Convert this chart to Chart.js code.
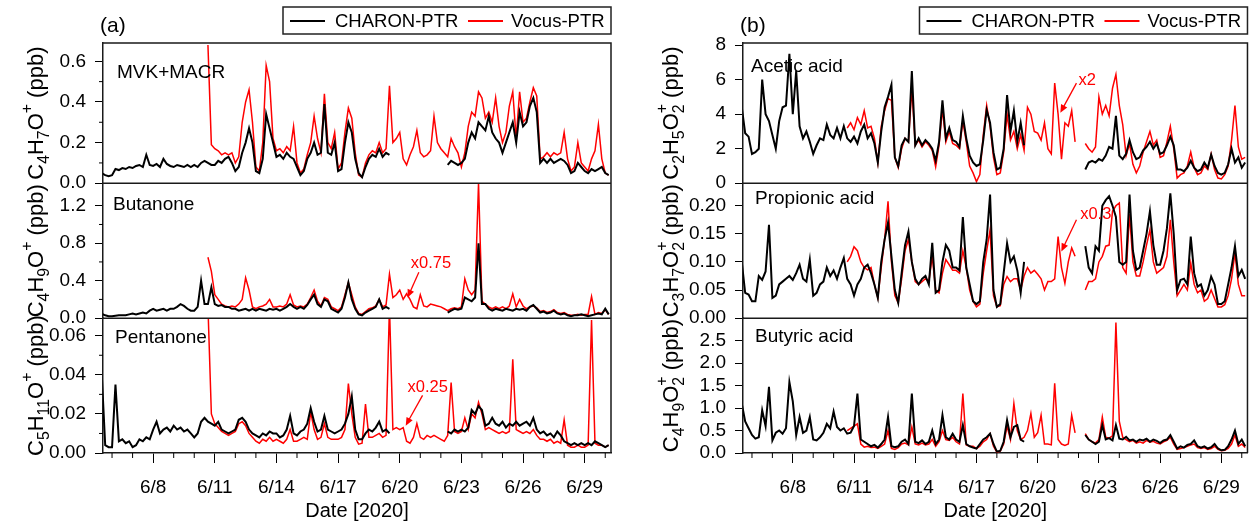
<!DOCTYPE html>
<html>
<head>
<meta charset="utf-8">
<script src="https://cdn.jsdelivr.net/npm/chart.js@4.4.1/dist/chart.umd.min.js"></script>
<style>
  html, body { margin: 0; padding: 0; background: #fff; }
  #wrap { position: relative; width: 1253px; height: 523px; }
  canvas { position: absolute; top: 0; }
  #chartA { left: 0; }
  #chartB { left: 626px; }
</style>
</head>
<body>
<div id="wrap">
  <canvas id="chartA" width="626" height="523"></canvas>
  <canvas id="chartB" width="627" height="523"></canvas>
</div>
<script>
const _ = null;

// Time grid: one sample every 4 h, starting 6/5 12:00 (day-of-June units)
const sampleStart = 5.5;
const sampleStep = 1 / 6;
const dayMin = 5.56;
const dayMax = 30.28;
const dateTicks = [8, 11, 14, 17, 20, 23, 26, 29];
const dayTicks = [6, 7, 9, 10, 12, 13, 15, 16, 18, 19, 21, 22, 24, 25, 27, 28, 30];

// Y tick values
const mvkTicks = [0, 0.2, 0.4, 0.6];
const mvkMinor = [0.1, 0.3, 0.5];
const butanoneTicks = [0, 0.4, 0.8, 1.2];
const butanoneMinor = [0.2, 0.6, 1.0];
const pentanoneTicks = [0, 0.02, 0.04, 0.06];
const pentanoneMinor = [0.01, 0.03, 0.05];
const aceticTicks = [0, 2, 4, 6, 8];
const propionicTicks = [0, 0.05, 0.1, 0.15, 0.2];
const butyricTicks = [0, 0.5, 1, 1.5, 2, 2.5];

// ---- (a) MVK+MACR ----
const mvkCharon = [
  0.05, 0.04, 0.035,
  0.04, 0.07, 0.065, 0.075, 0.07, 0.08,
  0.075, 0.085, 0.09, 0.08, 0.14, 0.09,
  0.085, 0.095, 0.08, 0.12, 0.095, 0.085,
  0.08, 0.09, 0.085, 0.08, 0.09, 0.08,
  0.09, 0.08, 0.1, 0.11, 0.1, 0.09,
  0.09, 0.11, 0.1, 0.12, 0.13, 0.1,
  0.06, 0.08, 0.15, 0.2, 0.27, 0.2,
  0.06, 0.05, 0.12, 0.34, 0.27, 0.2,
  0.13, 0.14, 0.12, 0.15, 0.13, 0.12,
  0.08, 0.04, 0.06, 0.12, 0.15, 0.2,
  0.14, 0.15, 0.39, 0.15, 0.14, 0.2,
  0.06, 0.07, 0.2, 0.3, 0.25, 0.12,
  0.05, 0.03, 0.08, 0.12, 0.14, 0.13,
  0.17, 0.13, 0.15, 0.14, _, _,
  _, _, _, _, _, _,
  _, _, _, _, _, _,
  _, _, 0.09, 0.11, 0.1, 0.09,
  0.1, 0.12, 0.2, 0.25, 0.22, 0.3,
  0.28, 0.26, 0.33, 0.25, 0.22, 0.2,
  0.15, 0.2, 0.25, 0.3, 0.2, 0.35,
  0.28, 0.3, 0.38, 0.42, 0.35, 0.1,
  0.12, 0.1, 0.12, 0.1, 0.11, 0.12,
  0.11, 0.09, 0.05, 0.06, 0.1, 0.08,
  0.06, 0.05, 0.07, 0.06, 0.07, 0.08,
  0.05, 0.04
];
const mvkVocus = [
  _, _, _,
  _, _, _, _, _, _,
  _, _, _, _, _, _,
  _, _, _, _, _, _,
  _, _, _, _, _, _,
  _, _, _, _, 0.68, 0.19,
  0.17, 0.16, 0.14, 0.15, 0.14, 0.15,
  0.1, 0.13, 0.3, 0.4, 0.46, 0.3,
  0.08, 0.06, 0.2, 0.58, 0.5, 0.22,
  0.16, 0.17, 0.15, 0.18, 0.16, 0.28,
  0.1, 0.05, 0.07, 0.14, 0.2, 0.33,
  0.22, 0.15, 0.44, 0.2, 0.17, 0.25,
  0.07, 0.1, 0.25, 0.37, 0.32, 0.15,
  0.04, 0.03, 0.1, 0.14, 0.16, 0.15,
  0.2, 0.15, 0.17, 0.48, 0.2, 0.22,
  0.25, 0.12, 0.09, 0.14, 0.18, 0.26,
  0.15, 0.13, 0.14, 0.16, 0.33, 0.2,
  0.17, 0.15, 0.13, 0.22, 0.18, 0.15,
  0.08, 0.15, 0.28, 0.35, 0.33, 0.45,
  0.42, 0.32, 0.35, 0.3, 0.42, 0.28,
  0.2, 0.25, 0.38, 0.45, 0.22, 0.45,
  0.3, 0.32, 0.4, 0.47, 0.43, 0.12,
  0.13, 0.15, 0.13, 0.15, 0.14, 0.15,
  0.25, 0.12, 0.06, 0.08, 0.2, 0.1,
  0.08, 0.06, 0.12, 0.16, 0.29, 0.12,
  0.05, 0.04
];

// ---- (a) Butanone ----
const butanoneCharon = [
  0.045, 0.03, 0.02,
  0.02, 0.025, 0.03, 0.03, 0.03, 0.04,
  0.05, 0.04, 0.05, 0.06, 0.05, 0.08,
  0.1, 0.08, 0.09, 0.1, 0.08, 0.1,
  0.1, 0.12, 0.15, 0.13, 0.1, 0.08,
  0.08, 0.12, 0.4, 0.15, 0.15, 0.33,
  0.15, 0.13, 0.14, 0.12, 0.12, 0.1,
  0.1, 0.08, 0.09, 0.1, 0.08, 0.1,
  0.08, 0.1, 0.09, 0.08, 0.1, 0.09,
  0.1, 0.08, 0.1, 0.12, 0.15, 0.12,
  0.1, 0.12, 0.1, 0.14, 0.2, 0.25,
  0.15, 0.12, 0.2, 0.18, 0.1, 0.08,
  0.06, 0.1, 0.22, 0.38, 0.2, 0.1,
  0.04, 0.03, 0.06, 0.08, 0.1, 0.12,
  0.2, 0.1, 0.12, 0.1, _, _,
  _, _, _, _, _, _,
  _, _, _, _, _, _,
  _, _, 0.06, 0.08, 0.1, 0.09,
  0.1, 0.22, 0.2, 0.18, 0.22, 0.8,
  0.15, 0.15, 0.1, 0.08, 0.1, 0.09,
  0.08, 0.1, 0.09, 0.08, 0.1, 0.09,
  0.1, 0.08, 0.12, 0.14, 0.1, 0.06,
  0.07, 0.05, 0.06, 0.08, 0.05, 0.04,
  0.05, 0.03, 0.02, 0.03, 0.03, 0.04,
  0.03, 0.02, 0.03, 0.04, 0.05, 0.04,
  0.1, 0.04
];
const butanoneVocus = [
  _, _, _,
  _, _, _, _, _, _,
  _, _, _, _, _, _,
  _, _, _, _, _, _,
  _, _, _, _, _, _,
  _, _, _, _, 0.65, 0.5,
  0.25, 0.2, 0.15, 0.13, 0.12, 0.13,
  0.12, 0.15, 0.2, 0.43, 0.3, 0.12,
  0.1, 0.12, 0.13, 0.15, 0.2, 0.12,
  0.12, 0.13, 0.12, 0.15, 0.25, 0.14,
  0.12, 0.13, 0.12, 0.15, 0.22, 0.3,
  0.18, 0.13, 0.22, 0.2, 0.12, 0.1,
  0.08, 0.12, 0.25, 0.38, 0.25, 0.12,
  0.05, 0.04, 0.07, 0.1, 0.11, 0.13,
  0.2, 0.12, 0.14, 0.47, 0.22, 0.25,
  0.3, 0.2, 0.26, 0.2, 0.12, 0.1,
  0.25, 0.13, 0.12, 0.15, 0.14, 0.13,
  0.12, 0.1, 0.08, 0.1, 0.11, 0.1,
  0.12, 0.42, 0.3, 0.25, 0.3, 1.44,
  0.18, 0.15, 0.12, 0.1, 0.12, 0.1,
  0.12, 0.1, 0.13, 0.26, 0.12, 0.2,
  0.13, 0.1, 0.12, 0.13, 0.11, 0.07,
  0.08, 0.06, 0.07, 0.09, 0.06, 0.05,
  0.06, 0.04, 0.03, 0.03, 0.04, 0.03,
  0.04, 0.04, 0.23, 0.04, 0.06, 0.05,
  0.09, 0.04
];

// ---- (a) Pentanone ----
const pentanoneCharon = [
  0.04, 0.004, 0.003,
  0.003, 0.035, 0.006, 0.007, 0.005, 0.006,
  0.003, 0.004, 0.007, 0.006, 0.008, 0.007,
  0.012, 0.016, 0.01, 0.012, 0.013, 0.011,
  0.014, 0.012, 0.013, 0.011, 0.012, 0.01,
  0.008, 0.01, 0.016, 0.018, 0.016, 0.015,
  0.014, 0.016, 0.012, 0.011, 0.01, 0.011,
  0.012, 0.017, 0.018, 0.016, 0.012, 0.01,
  0.009, 0.008, 0.01, 0.009, 0.011, 0.01,
  0.01, 0.008, 0.009, 0.012, 0.019, 0.01,
  0.009, 0.011, 0.012, 0.015, 0.023, 0.016,
  0.011, 0.012, 0.019, 0.012, 0.011, 0.01,
  0.011, 0.012, 0.015, 0.02, 0.029, 0.012,
  0.007, 0.007, 0.01, 0.012, 0.011, 0.013,
  0.016, 0.011, 0.012, 0.01, _, _,
  _, _, _, _, _, _,
  _, _, _, _, _, _,
  _, _, 0.011, 0.01, 0.012, 0.011,
  0.012, 0.011, 0.013, 0.022, 0.02, 0.024,
  0.022, 0.014, 0.015, 0.018, 0.015, 0.014,
  0.016, 0.013, 0.015, 0.014, 0.016, 0.014,
  0.015, 0.016, 0.014, 0.018, 0.012, 0.01,
  0.011, 0.009, 0.01, 0.008, 0.011, 0.009,
  0.006, 0.005, 0.004, 0.005, 0.004, 0.005,
  0.004, 0.005, 0.004, 0.006, 0.005, 0.004,
  0.003, 0.004
];
const pentanoneVocus = [
  _, _, _,
  _, _, _, _, _, _,
  _, _, _, _, _, _,
  _, _, _, _, _, _,
  _, _, _, _, _, _,
  _, _, _, _, 0.075, 0.02,
  0.015, 0.013, 0.011, 0.01, 0.009, 0.01,
  0.011, 0.015, 0.016, 0.014, 0.01, 0.008,
  0.006, 0.005, 0.007, 0.006, 0.008, 0.006,
  0.007, 0.006, 0.005, 0.007, 0.012, 0.006,
  0.006, 0.007, 0.008, 0.007, 0.021, 0.012,
  0.007, 0.008, 0.015, 0.008, 0.007, 0.007,
  0.007, 0.008, 0.012, 0.0355, 0.02, 0.008,
  0.0045, 0.005, 0.025, 0.008, 0.008, 0.009,
  0.01, 0.008, 0.009, 0.075, 0.012, 0.013,
  0.012, 0.013, 0.006, 0.005, 0.008, 0.015,
  0.008, 0.007, 0.009, 0.008, 0.009, 0.008,
  0.007, 0.006, 0.009, 0.036, 0.011, 0.01,
  0.011, 0.018, 0.012, 0.02, 0.018, 0.026,
  0.02, 0.012, 0.013, 0.012, 0.011, 0.01,
  0.011, 0.01, 0.011, 0.048, 0.012, 0.011,
  0.01, 0.011, 0.01, 0.012, 0.009, 0.007,
  0.007, 0.006, 0.007, 0.005, 0.006, 0.005,
  0.017, 0.004, 0.003, 0.003, 0.004, 0.003,
  0.003, 0.004, 0.068, 0.005, 0.004, 0.004,
  0.003, 0.004
];

// ---- (b) Acetic acid ----
const aceticCharon = [
  4.4, 2.9, 2.7,
  1.7, 1.8, 2.0, 6.0, 4.0, 3.6,
  2.8, 2.0, 3.6, 4.4, 4.5, 7.5,
  4.0, 6.5, 3.3, 2.6, 3.0, 2.4,
  1.7, 2.2, 2.6, 2.5, 3.4, 2.8,
  2.6, 3.2, 2.6, 3.3, 2.6, 2.4,
  2.7, 2.3, 3.0, 3.4, 2.6, 2.9,
  2.3, 1.2, 3.0, 4.4, 5.0, 5.7,
  1.5, 1.0, 2.2, 2.6, 2.4, 6.5,
  2.2, 2.6, 2.2, 2.5, 2.3, 2.0,
  1.3, 2.4, 4.8, 2.6, 3.2, 2.5,
  2.4, 2.1, 3.9, 2.6, 1.6, 1.2,
  1.0, 1.1, 2.5, 4.25, 3.5, 1.8,
  0.8, 0.9, 2.0, 5.1, 3.0, 4.2,
  2.4, 3.5, 2.2, _, _, _,
  _, _, _, _, _, _,
  _, _, _, _, _, _,
  _, _, 0.8, 1.2, 1.3, 1.2,
  1.4, 1.3, 1.6, 2.1, 2.0, 3.9,
  1.6, 1.4, 1.7, 2.5, 1.8, 1.4,
  1.5, 1.9, 2.1, 2.4, 2.0, 2.3,
  1.7, 1.8, 2.2, 2.7, 2.2, 0.8,
  0.8, 0.7, 0.9, 1.3, 0.9, 0.7,
  0.8, 1.2, 0.9, 1.65, 1.0, 0.6,
  0.5, 0.6, 1.1, 2.0, 1.2, 1.5,
  0.9, 1.2
];
const aceticVocus = [
  _, _, _,
  _, _, _, _, _, _,
  _, _, _, _, _, _,
  _, _, _, _, _, _,
  _, _, _, _, _, _,
  _, _, _, _, 3.2, 3.5,
  3.1, 3.8, 3.4, 4.2, 3.2, 3.3,
  2.6, 1.2, 3.3, 4.2, 4.9, 4.8,
  1.5, 0.9, 2.0, 2.6, 2.4, 5.5,
  2.2, 2.5, 2.1, 2.4, 2.2, 1.9,
  0.95, 2.2, 4.3, 2.4, 3.0, 2.3,
  2.2, 2.0, 3.6, 2.4, 1.0, 0.6,
  0.1, 0.5, 2.8, 4.5, 3.3, 1.5,
  0.5, 0.6, 1.8, 4.0, 2.5, 3.0,
  2.0, 2.8, 1.9, 4.4, 4.0, 3.0,
  2.9, 2.5, 3.5, 2.0, 1.7, 5.8,
  4.0, 1.4, 3.5, 3.3, 4.2, 2.4,
  _, _, 2.3, 2.0, 1.8, 2.1,
  5.0, 4.0, 4.5, 3.9, 5.5, 6.3,
  4.5, 3.4, 1.6, 2.3, 1.1, 0.6,
  1.0, 1.8, 2.4, 3.0, 2.2, 2.5,
  1.5, 1.6, 2.4, 3.3, 2.0, 0.3,
  0.5, 0.6, 1.0, 1.8, 0.9, 0.5,
  0.6, 1.0, 0.8, 1.7, 0.8, 0.3,
  0.25, 0.5, 1.0, 2.5, 4.5, 2.1,
  1.4, 1.5
];

// ---- (b) Propionic acid ----
const propionicCharon = [
  0.1, 0.045, 0.042,
  0.03, 0.03, 0.075, 0.068, 0.083, 0.166,
  0.036, 0.04, 0.06, 0.065, 0.07, 0.075,
  0.068, 0.08, 0.095, 0.07, 0.065, 0.104,
  0.04, 0.045, 0.06, 0.065, 0.09, 0.075,
  0.085, 0.07, 0.09, 0.107, 0.07, 0.06,
  0.04, 0.06, 0.07, 0.09, 0.095, 0.08,
  0.06, 0.036, 0.1, 0.14, 0.17, 0.11,
  0.05, 0.027, 0.08, 0.13, 0.154, 0.1,
  0.07, 0.06, 0.07, 0.075, 0.06, 0.134,
  0.045, 0.05, 0.1, 0.13, 0.12, 0.09,
  0.09, 0.085, 0.18, 0.09, 0.06, 0.03,
  0.025, 0.03, 0.1, 0.14, 0.22, 0.05,
  0.02, 0.025, 0.08, 0.133, 0.1, 0.11,
  0.085, 0.045, 0.1, _, _, _,
  _, _, _, _, _, _,
  _, _, _, _, _, _,
  _, _, 0.128, 0.09, 0.08, 0.128,
  0.12, 0.2, 0.21, 0.217, 0.2, 0.18,
  0.1, 0.095, 0.1, 0.22, 0.12, 0.086,
  0.09, 0.12, 0.15, 0.19, 0.13, 0.095,
  0.095, 0.12, 0.16, 0.222, 0.15, 0.05,
  0.068, 0.07, 0.06, 0.145, 0.08, 0.056,
  0.06, 0.04, 0.05, 0.074, 0.06, 0.025,
  0.025, 0.03, 0.06, 0.09, 0.128, 0.075,
  0.086, 0.07
];
const propionicVocus = [
  _, _, _,
  _, _, _, _, _, _,
  _, _, _, _, _, _,
  _, _, _, _, _, _,
  _, _, _, _, _, _,
  _, _, _, _, 0.1, 0.11,
  0.127, 0.12, 0.1, 0.09, 0.086, 0.09,
  0.06, 0.036, 0.09, 0.14, 0.208, 0.1,
  0.04, 0.027, 0.07, 0.12, 0.14, 0.1,
  0.065, 0.06, 0.065, 0.07, 0.065, 0.11,
  0.05, 0.045, 0.08, 0.104, 0.095, 0.085,
  0.085, 0.08, 0.12, 0.09, 0.05, 0.03,
  0.02, 0.025, 0.08, 0.12, 0.157, 0.04,
  0.02, 0.022, 0.06, 0.074, 0.065, 0.07,
  0.07, 0.05, 0.075, 0.09, 0.08, 0.085,
  0.078, 0.07, 0.05, 0.065, 0.065, 0.07,
  0.145, 0.09, 0.062, 0.1, 0.125, 0.11,
  _, _, 0.05, 0.065, 0.065, 0.07,
  0.1, 0.11, 0.128, 0.13, 0.19, 0.2,
  0.205, 0.09, 0.08, 0.185, 0.1, 0.075,
  0.075, 0.1, 0.13, 0.157, 0.1, 0.08,
  0.085, 0.09, 0.11, 0.175, 0.1, 0.04,
  0.05, 0.06, 0.05, 0.098, 0.06, 0.045,
  0.05, 0.03, 0.035, 0.05, 0.035, 0.02,
  0.02, 0.024, 0.04, 0.07, 0.116, 0.06,
  0.04, 0.04
];

// ---- (b) Butyric acid ----
const butyricCharon = [
  1.1, 0.7, 0.55,
  0.4, 0.32, 0.35, 0.95, 0.6, 1.47,
  0.28, 0.45, 0.5, 0.43, 0.55, 1.58,
  1.15, 0.4, 0.8, 0.45, 0.5, 0.8,
  0.3, 0.28, 0.35, 0.45, 0.65, 0.55,
  0.92, 0.58, 0.5, 0.55, 0.43, 0.45,
  0.6, 1.32, 0.3, 0.25, 0.2, 0.15,
  0.18, 0.12, 0.2, 0.3, 0.8, 0.15,
  0.13, 0.15, 0.25, 0.3, 0.2, 1.32,
  0.25, 0.22, 0.28, 0.2, 0.25, 0.5,
  0.2, 0.3, 0.84, 0.35, 0.3, 0.43,
  0.3, 0.25, 0.62, 0.2, 0.15, 0.12,
  0.1, 0.2, 0.3, 0.35, 0.43, 0.2,
  0.03, 0.05, 0.25, 0.73, 0.35, 0.58,
  0.62, 0.3, 0.25, _, _, _,
  _, _, _, _, _, _,
  _, _, _, _, _, _,
  _, _, 0.4, 0.3, 0.25, 0.2,
  0.25, 0.62, 0.3, 0.33, 0.28, 0.62,
  0.32, 0.3, 0.36, 0.28, 0.3, 0.25,
  0.3, 0.28, 0.32, 0.25, 0.3, 0.27,
  0.22, 0.28, 0.3, 0.4, 0.25, 0.1,
  0.15, 0.12, 0.18, 0.2, 0.28, 0.15,
  0.12, 0.15, 0.1, 0.13, 0.2, 0.1,
  0.06, 0.07, 0.15, 0.3, 0.5, 0.2,
  0.3, 0.15
];
const butyricVocus = [
  _, _, _,
  _, _, _, _, _, _,
  _, _, _, _, _, _,
  _, _, _, _, _, _,
  _, _, _, _, _, _,
  _, _, _, _, 0.5, 0.55,
  0.6, 0.65, 0.2, 0.13, 0.15, 0.12,
  0.13, 0.1, 0.15, 0.2, 0.5, 0.1,
  0.08, 0.12, 0.2, 0.22, 0.18, 0.58,
  0.2, 0.18, 0.22, 0.18, 0.2, 0.3,
  0.15, 0.25, 0.5, 0.3, 0.28, 0.35,
  0.25, 0.2, 1.32, 0.18, 0.15, 0.15,
  0.1, 0.15, 0.25, 0.3, 0.43, 0.15,
  0.02, 0.04, 0.2, 0.6, 0.3, 1.1,
  0.5, 0.3, 0.35, 0.5, 0.88, 0.35,
  0.45, 0.84, 0.2, 0.2, 0.18, 1.55,
  0.3, 0.2, 0.17, 0.2, 0.84, 0.45,
  _, _, 0.43, 0.3, 0.25, 0.22,
  0.3, 0.8, 0.35, 0.33, 0.38, 2.9,
  0.7, 0.35, 0.3, 0.25, 0.28, 0.22,
  0.25, 0.22, 0.28, 0.24, 0.26, 0.22,
  0.2, 0.25, 0.28, 0.35, 0.2, 0.08,
  0.1, 0.12, 0.15, 0.18, 0.2, 0.12,
  0.1, 0.12, 0.08, 0.1, 0.15, 0.08,
  0.05, 0.06, 0.1, 0.2, 0.4, 0.15,
  0.2, 0.12
];

const times = mvkCharon.map((v, i) => sampleStart + i * sampleStep);

const FONT = "'Liberation Sans', Arial, sans-serif";
const charonColor = '#000000';
const vocusColor = '#ff0000';
const frameColor = '#1a1a1a';

Chart.defaults.font.family = FONT;
Chart.defaults.color = '#000';

function font(size) {
    return size + 'px ' + FONT;
}

// Panels: subplots are listed top to bottom
const panels = [
    {
        canvas: 'chartA', letter: '(a)', axisWidth: 103, padRight: 15, titleX: 43,
        subplots: [
            { id: 'yMvk', name: 'MVK+MACR', nameAt: [14, 35], weight: 1.04, max: 0.69, ticks: mvkTicks, minor: mvkMinor, decimals: 1,
              title: [['C', ''], ['4', 'sub'], ['H', ''], ['7', 'sub'], ['O', ''], ['+', 'sup'], [' (ppb)', '']],
              charon: mvkCharon, vocus: mvkVocus },
            { id: 'yButanone', name: 'Butanone', nameAt: [10, 27], weight: 1, max: 1.44, ticks: butanoneTicks, minor: butanoneMinor, decimals: 1,
              title: [['C', ''], ['4', 'sub'], ['H', ''], ['9', 'sub'], ['O', ''], ['+', 'sup'], [' (ppb)', '']],
              charon: butanoneCharon, vocus: butanoneVocus },
            { id: 'yPentanone', name: 'Pentanone', nameAt: [12, 25], weight: 1, max: 0.069, ticks: pentanoneTicks, minor: pentanoneMinor, decimals: 2,
              title: [['C', ''], ['5', 'sub'], ['H', ''], ['11', 'sub'], ['O', ''], ['+', 'sup'], [' (ppb)', '']],
              charon: pentanoneCharon, vocus: pentanoneVocus }
        ],
        notes: [
            { axis: 'yButanone', text: 'x0.75', at: [20.54, 0.54], from: [20.93, 0.49], to: [20.38, 0.22] },
            { axis: 'yPentanone', text: 'x0.25', at: [20.38, 0.031], from: [21.11, 0.0295], to: [20.29, 0.014] }
        ]
    },
    {
        canvas: 'chartB', letter: '(b)', axisWidth: 117, padRight: 3, titleX: 52,
        subplots: [
            { id: 'yAcetic', name: 'Acetic acid', nameAt: [8, 29], weight: 1.04, max: 8.12, ticks: aceticTicks, minor: [], decimals: 0,
              title: [['C', ''], ['2', 'sub'], ['H', ''], ['5', 'sub'], ['O', ''], ['2', 'sub'], ['+', 'supover'], [' (ppb)', '']],
              charon: aceticCharon, vocus: aceticVocus },
            { id: 'yPropionic', name: 'Propionic acid', nameAt: [12, 21], weight: 1, max: 0.24, ticks: propionicTicks, minor: [], decimals: 2,
              title: [['C', ''], ['3', 'sub'], ['H', ''], ['7', 'sub'], ['O', ''], ['2', 'sub'], ['+', 'supover'], [' (ppb)', '']],
              charon: propionicCharon, vocus: propionicVocus },
            { id: 'yButyric', name: 'Butyric acid', nameAt: [12, 24], weight: 1, max: 3.0, ticks: butyricTicks, minor: [], decimals: 1,
              title: [['C', ''], ['4', 'sub'], ['H', ''], ['9', 'sub'], ['O', ''], ['2', 'sub'], ['+', 'supover'], [' (ppb)', '']],
              charon: butyricCharon, vocus: butyricVocus }
        ],
        notes: [
            { axis: 'yAcetic', text: 'x2', at: [22.0, 5.7], from: [21.9, 5.8], to: [21.11, 4.08] },
            { axis: 'yPropionic', text: 'x0.3', at: [22.08, 0.177], from: [21.9, 0.175], to: [21.16, 0.1186] }
        ]
    }
];

// y title with sub/superscripts, rotated to read bottom-to-top
function drawRichVertical(ctx, parts, x, yMid, size) {
    const small = size * 0.72;
    const items = [];
    let cursor = 0;
    let prev = null;
    parts.forEach(([text, kind]) => {
        ctx.font = font(kind ? small : size);
        const w = ctx.measureText(text).width;
        let start = cursor;
        if (kind === 'supover' && prev) {
            start = prev.start;
            cursor = start + Math.max(w, prev.w);
        } else {
            cursor += w;
        }
        const item = { text, kind, start, w };
        items.push(item);
        prev = item;
    });
    ctx.save();
    ctx.translate(x, yMid);
    ctx.rotate(-Math.PI / 2);
    ctx.textAlign = 'left';
    ctx.textBaseline = 'alphabetic';
    ctx.fillStyle = '#000';
    items.forEach(it => {
        ctx.font = font(it.kind ? small : size);
        let dy = 0;
        if (it.kind === 'sub') dy = size * 0.26;
        if (it.kind === 'sup' || it.kind === 'supover') dy = -size * 0.5;
        ctx.fillText(it.text, it.start - cursor / 2, dy);
    });
    ctx.restore();
}

function drawArrow(ctx, x1, y1, x2, y2) {
    const ang = Math.atan2(y2 - y1, x2 - x1);
    const head = 8;
    ctx.beginPath();
    ctx.moveTo(x1, y1);
    ctx.lineTo(x2 - Math.cos(ang) * head * 0.8, y2 - Math.sin(ang) * head * 0.8);
    ctx.stroke();
    ctx.beginPath();
    ctx.moveTo(x2, y2);
    ctx.lineTo(x2 - head * Math.cos(ang) + 3.5 * Math.sin(ang), y2 - head * Math.sin(ang) - 3.5 * Math.cos(ang));
    ctx.lineTo(x2 - head * Math.cos(ang) - 3.5 * Math.sin(ang), y2 - head * Math.sin(ang) + 3.5 * Math.cos(ang));
    ctx.closePath();
    ctx.fill();
}

function drawLegend(ctx, right) {
    const w = 328, h = 27, top = 7;
    const left = right - w;
    const mid = top + 14;
    ctx.save();
    ctx.strokeStyle = '#222';
    ctx.lineWidth = 1.5;
    ctx.strokeRect(left, top, w, h);
    ctx.lineWidth = 2;
    ctx.strokeStyle = charonColor;
    ctx.beginPath(); ctx.moveTo(left + 7, mid); ctx.lineTo(left + 42, mid); ctx.stroke();
    ctx.strokeStyle = vocusColor;
    ctx.beginPath(); ctx.moveTo(left + 185, mid); ctx.lineTo(left + 220, mid); ctx.stroke();
    ctx.fillStyle = '#000';
    ctx.font = font(18.5);
    ctx.textBaseline = 'alphabetic';
    ctx.fillText('CHARON-PTR', left + 52, top + 20);
    ctx.fillText('Vocus-PTR', left + 228, top + 20);
    ctx.restore();
}

function decorPlugin(panel) {
    return {
        id: 'decor',
        afterDraw(chart) {
            const ctx = chart.ctx;
            const area = chart.chartArea;
            const xs = chart.scales.x;
            ctx.save();

            // frame + separators between stacked subplots
            ctx.strokeStyle = frameColor;
            ctx.lineWidth = 1.5;
            ctx.beginPath();
            ctx.moveTo(area.left, area.top);
            ctx.lineTo(area.right, area.top);
            ctx.lineTo(area.right, area.bottom);
            panel.subplots.slice(1).forEach(sp => {
                const y = chart.scales[sp.id].top;
                ctx.moveTo(area.left, y);
                ctx.lineTo(area.right, y);
            });
            ctx.stroke();

            // minor ticks
            ctx.lineWidth = 1;
            ctx.strokeStyle = '#000';
            ctx.beginPath();
            dayTicks.forEach(d => {
                const x = xs.getPixelForValue(d);
                ctx.moveTo(x, area.bottom);
                ctx.lineTo(x, area.bottom + 5);
            });
            panel.subplots.forEach(sp => {
                sp.minor.forEach(v => {
                    const y = chart.scales[sp.id].getPixelForValue(v);
                    ctx.moveTo(area.left - 4, y);
                    ctx.lineTo(area.left, y);
                });
            });
            ctx.stroke();

            // y titles and subplot names
            panel.subplots.forEach(sp => {
                const s = chart.scales[sp.id];
                drawRichVertical(ctx, sp.title, panel.titleX, (s.top + s.bottom) / 2, 22);
                ctx.fillStyle = '#000';
                ctx.font = font(19);
                ctx.textAlign = 'left';
                ctx.textBaseline = 'alphabetic';
                ctx.fillText(sp.name, area.left + sp.nameAt[0], s.top + sp.nameAt[1]);
            });

            // scaling-factor notes
            ctx.fillStyle = vocusColor;
            ctx.strokeStyle = vocusColor;
            ctx.lineWidth = 1.3;
            panel.notes.forEach(n => {
                const ys = chart.scales[n.axis];
                ctx.font = font(16.5);
                ctx.textAlign = 'left';
                ctx.fillText(n.text, xs.getPixelForValue(n.at[0]), ys.getPixelForValue(n.at[1]));
                drawArrow(ctx,
                    xs.getPixelForValue(n.from[0]), ys.getPixelForValue(n.from[1]),
                    xs.getPixelForValue(n.to[0]), ys.getPixelForValue(n.to[1]));
            });

            // panel letter and legend
            ctx.fillStyle = '#000';
            ctx.font = font(21);
            ctx.textAlign = 'left';
            ctx.fillText(panel.letter, area.left - 3, 32);
            ctx.restore();
            drawLegend(ctx, area.right);
        }
    };
}

function yScale(sp, axisWidth) {
    return {
        type: 'linear',
        position: 'left',
        stack: 'panel',
        stackWeight: sp.weight,
        min: 0,
        max: sp.max,
        afterBuildTicks: s => { s.ticks = sp.ticks.map(v => ({ value: v })); },
        afterFit: s => { s.width = axisWidth; },
        ticks: {
            autoSkip: false,
            padding: 9,
            font: { size: 19 },
            callback: v => v.toFixed(sp.decimals)
        },
        grid: { drawOnChartArea: false, tickLength: 8, tickColor: '#000' },
        border: { color: frameColor, width: 1.5 }
    };
}

function buildChart(panel) {
    const scales = {
        x: {
            type: 'linear',
            min: dayMin,
            max: dayMax,
            afterBuildTicks: s => { s.ticks = dateTicks.map(v => ({ value: v })); },
            afterFit: s => { s.height = 70; },
            ticks: {
                autoSkip: false,
                maxRotation: 0,
                padding: 13,
                font: { size: 19 },
                callback: v => '6/' + v
            },
            grid: { drawOnChartArea: false, tickLength: 10, tickColor: '#000' },
            border: { color: frameColor, width: 1.5 },
            title: { display: true, text: 'Date [2020]', font: { size: 20 }, padding: { top: 0, bottom: 0 } }
        }
    };
    // stacked left axes are laid out top-down in reverse definition order
    panel.subplots.slice().reverse().forEach(sp => {
        scales[sp.id] = yScale(sp, panel.axisWidth);
    });

    const datasets = [];
    panel.subplots.forEach(sp => {
        datasets.push({
            label: 'CHARON-PTR',
            data: times.map((t, i) => ({ x: t, y: sp.charon[i] })),
            yAxisID: sp.id,
            borderColor: charonColor,
            borderWidth: 2,
            pointRadius: 0,
            tension: 0,
            spanGaps: false
        });
    });
    panel.subplots.forEach(sp => {
        datasets.push({
            label: 'Vocus-PTR',
            data: times.map((t, i) => ({ x: t, y: sp.vocus[i] })),
            yAxisID: sp.id,
            borderColor: vocusColor,
            borderWidth: 1.5,
            pointRadius: 0,
            tension: 0,
            spanGaps: false
        });
    });

    new Chart(document.getElementById(panel.canvas), {
        type: 'line',
        data: { datasets },
        options: {
            responsive: false,
            animation: false,
            events: [],
            layout: { autoPadding: false, padding: { left: 0, right: panel.padRight, top: 43, bottom: 0 } },
            plugins: {
                legend: { display: false },
                tooltip: { enabled: false }
            },
            scales
        },
        plugins: [decorPlugin(panel)]
    });
}

panels.forEach(buildChart);
</script>
</body>
</html>
